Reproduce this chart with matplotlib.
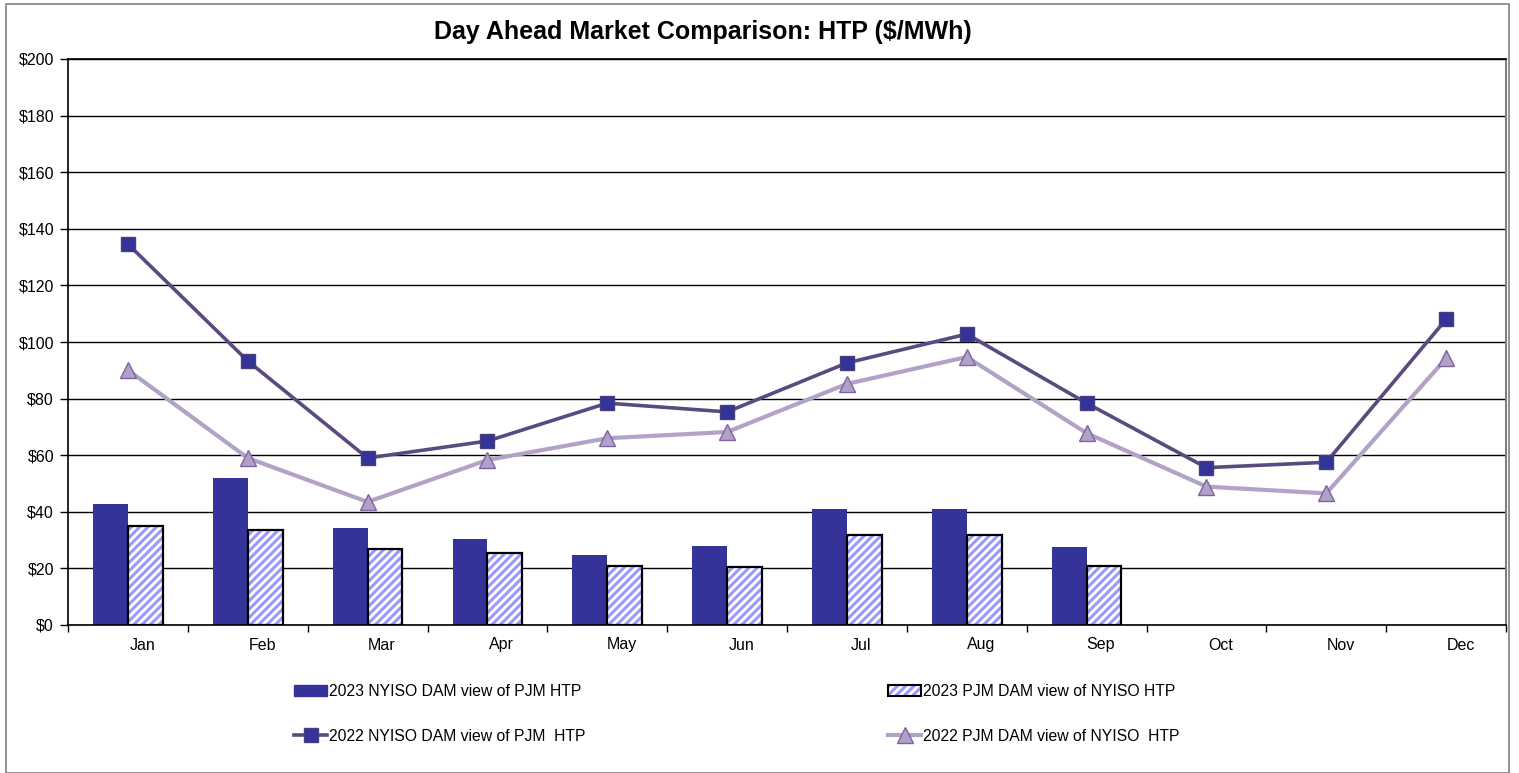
import numpy as np
import matplotlib
matplotlib.use('Agg')
import matplotlib.pyplot as plt
from matplotlib.patches import Rectangle, Patch
from matplotlib.lines import Line2D
from matplotlib import font_manager

months = ['Jan', 'Feb', 'Mar', 'Apr', 'May', 'Jun', 'Jul', 'Aug', 'Sep', 'Oct', 'Nov', 'Dec']
nyiso_2023 = [42.9, 51.8, 34.2, 30.4, 24.7, 27.9, 41.0, 41.0, 27.6]
pjm_2023 = [35.1, 33.5, 26.9, 25.4, 20.8, 20.5, 31.8, 31.8, 20.8]
nyiso_2022 = [134.6, 93.3, 59.0, 65.0, 78.4, 75.3, 92.6, 102.8, 78.4, 55.6, 57.5, 108.0]
pjm_2022 = [90.1, 59.0, 43.5, 58.3, 66.0, 68.2, 85.2, 94.7, 67.8, 48.9, 46.5, 94.2]

plt.rcParams['font.family'] = ['Liberation Sans', 'DejaVu Sans']
plt.rcParams['hatch.linewidth'] = 2.2

# legend text in the reference is narrow
names = {f.name for f in font_manager.fontManager.ttflist}
if 'Liberation Sans Narrow' in names:
    leg_font = {'family': 'Liberation Sans Narrow', 'size': 14}
else:
    leg_font = {'family': 'Liberation Sans', 'size': 11.3}

fig = plt.figure(figsize=(15.19, 7.73), dpi=100)
ax = fig.add_axes([68 / 1519, 1 - 625 / 773, (1506 - 68) / 1519, (625 - 59) / 773])

# outer border
fig.patches.append(Rectangle((6 / 1519, 0), 1503 / 1519, 1 - 4 / 773, transform=fig.transFigure,
                             fill=False, edgecolor='#808080', linewidth=1.2))

x = np.arange(len(months))
w = 0.29
xb = x[:len(nyiso_2023)]

ax.bar(xb - w / 2, nyiso_2023, w, color='#333399', zorder=2)
ax.bar(xb + w / 2, pjm_2023, w, color='white', hatch='////', edgecolor='#9999FF', linewidth=0, zorder=2)
ax.bar(xb + w / 2, pjm_2023, w, fill=False, edgecolor='black', linewidth=1.6, zorder=3)

ax.plot(x, nyiso_2022, color='#5B4A80', linewidth=2.6, marker='s', markersize=10.5,
        markerfacecolor='#333399', markeredgecolor='#4B3F7A', zorder=4)
ax.plot(x, pjm_2022, color='#B3A2C7', linewidth=3.0, marker='^', markersize=12,
        markerfacecolor='#B1A0C7', markeredgecolor='#8064A2', zorder=4)

ax.set_xlim(-0.5, 11.5)
ax.set_ylim(0, 200)
ax.set_yticks(np.arange(0, 201, 20))
ax.set_yticklabels([f'${v}' for v in range(0, 201, 20)])
ax.yaxis.grid(True, color='black', linewidth=1.0, zorder=0)
ax.set_axisbelow(True)

ax.set_xticks(np.arange(-0.5, 12, 1))
ax.set_xticklabels([])
ax.set_xticks(x + 0.12, minor=True)
ax.set_xticklabels(months, minor=True)
ax.tick_params(axis='x', which='major', direction='out', length=5, width=1)
ax.tick_params(axis='x', which='minor', length=0, pad=9, labelsize=11.5)
ax.tick_params(axis='y', direction='out', length=6, width=1, labelsize=11.5, pad=4)

for s in ['left', 'bottom', 'top']:
    ax.spines[s].set_color('black')
    ax.spines[s].set_linewidth(1.2)
ax.spines['right'].set_color('#808080')
ax.spines['right'].set_linewidth(1.5)

fig.text(703 / 1519, 1 - 32 / 773, 'Day Ahead Market Comparison: HTP ($/MWh)',
         ha='center', va='center', fontsize=18, fontweight='bold')

h_nyiso23 = Patch(facecolor='#333399', edgecolor='#333399')
h_pjm23 = (Patch(facecolor='white', hatch='////', edgecolor='#9999FF', linewidth=0),
           Patch(fill=False, edgecolor='black', linewidth=1.5))
h_nyiso22 = Line2D([], [], color='#5B4A80', linewidth=2.6, marker='s', markersize=10.5,
                   markerfacecolor='#333399', markeredgecolor='#4B3F7A')
h_pjm22 = Line2D([], [], color='#B3A2C7', linewidth=3.0, marker='^', markersize=12,
                 markerfacecolor='#B1A0C7', markeredgecolor='#8064A2')

# ncol fills column by column
handles = [h_nyiso23, h_nyiso22, h_pjm23, h_pjm22]
labels = ['2023 NYISO DAM view of PJM HTP', '2022 NYISO DAM view of PJM  HTP',
          '2023 PJM DAM view of NYISO HTP', '2022 PJM DAM view of NYISO  HTP']
leg = fig.legend(handles, labels, ncol=2, loc='center', bbox_to_anchor=(737 / 1519, 1 - 714 / 773),
                 frameon=False, prop=leg_font, handlelength=2.1, handletextpad=0.12,
                 columnspacing=19.3, labelspacing=1.85)

fig.savefig('out.png', dpi=100)
